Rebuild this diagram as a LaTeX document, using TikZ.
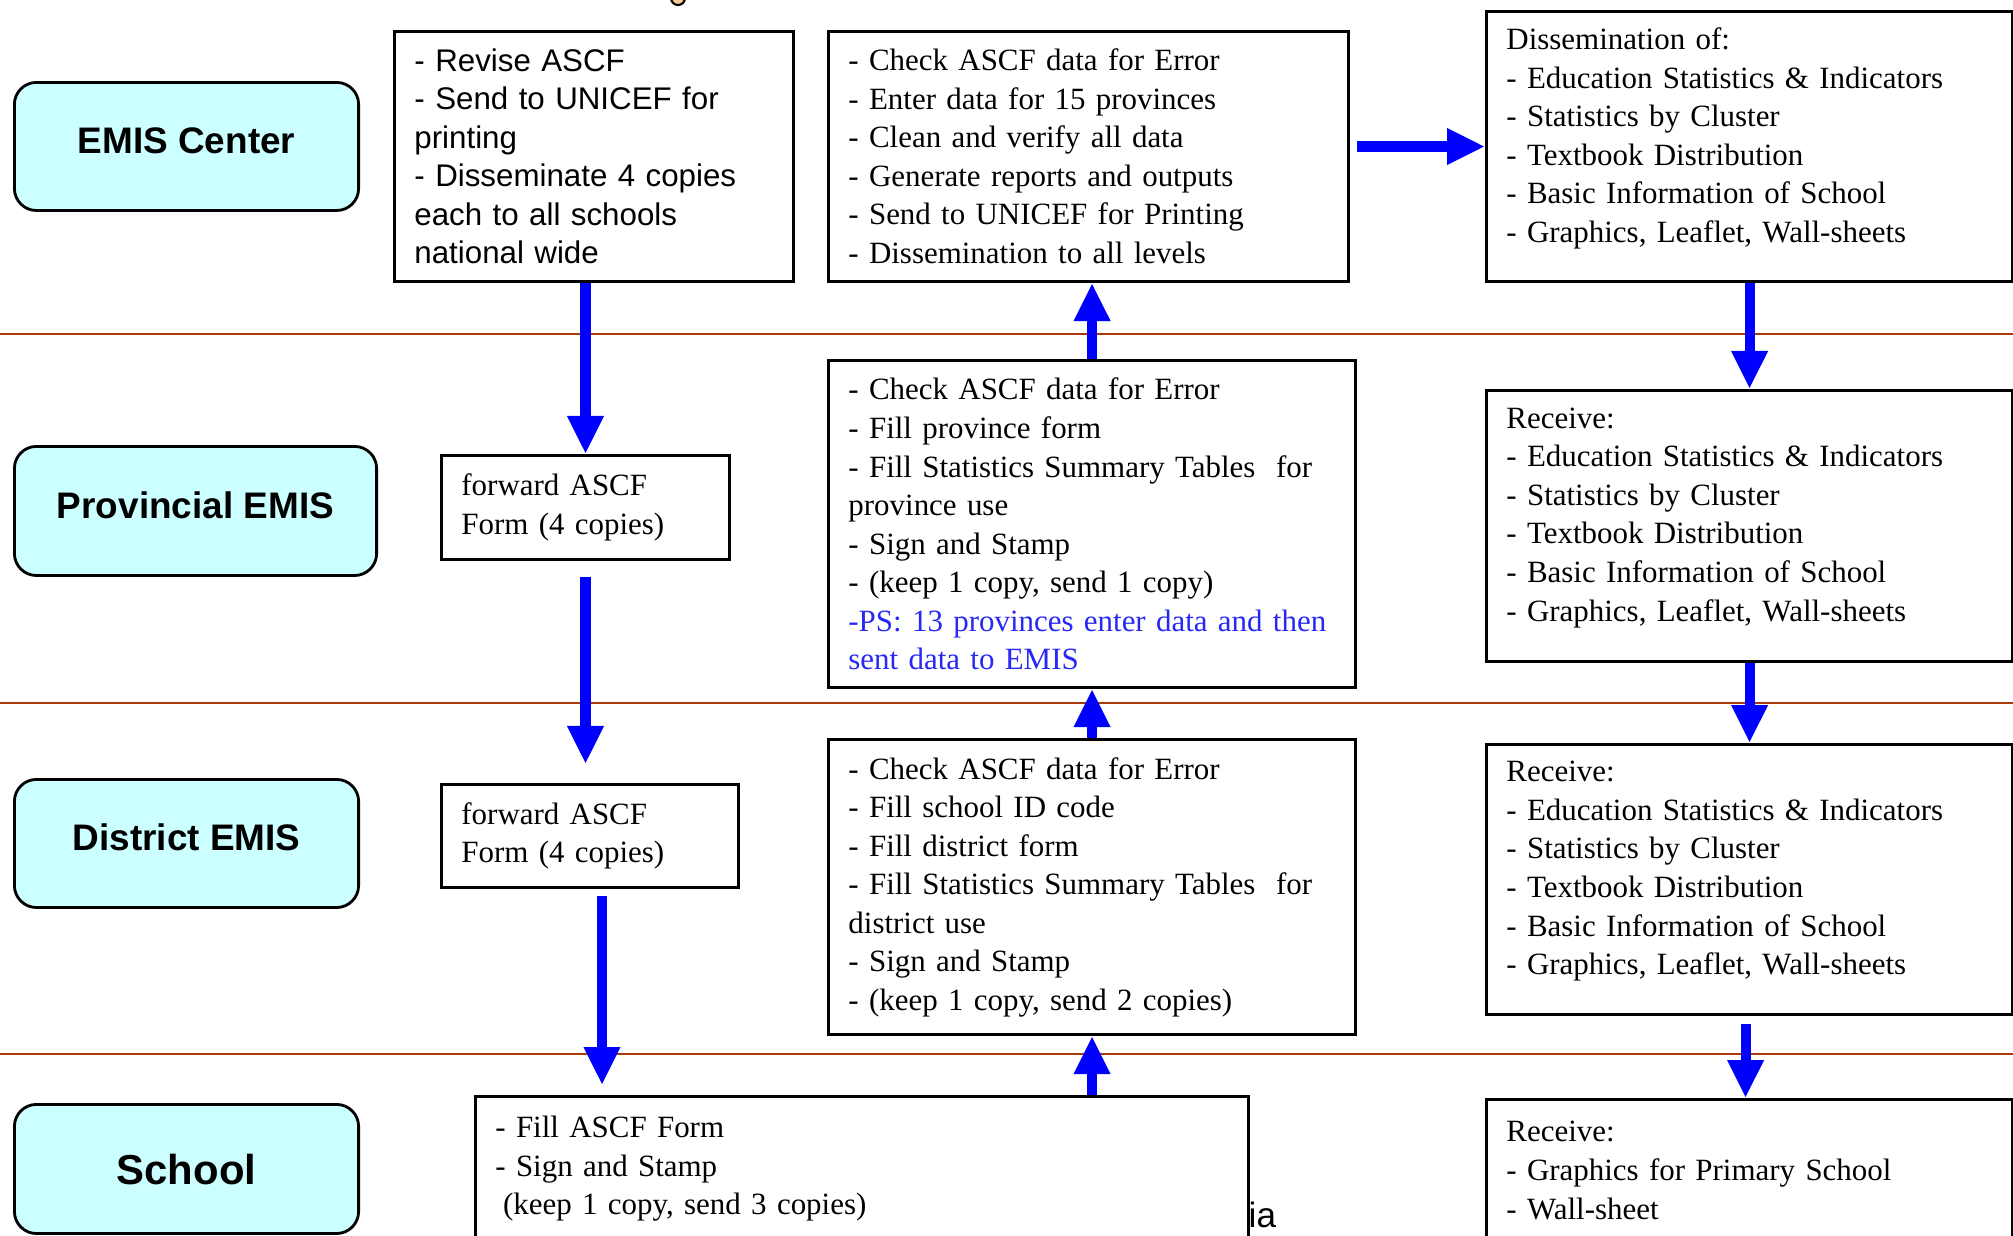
\documentclass[tikz,border=0pt]{standalone}
\usepackage{fontspec}
\setmainfont{Liberation Serif}
\newfontfamily\arialfont{Liberation Sans}
\usetikzlibrary{arrows.meta}
\definecolor{levelcyan}{RGB}{204,255,255}
\definecolor{rulebrown}{RGB}{170,60,10}
\definecolor{psblue}{RGB}{40,40,245}
\definecolor{peach}{RGB}{255,200,150}
\newcommand{\bottomgap}{\rule[-0.23cm]{0pt}{0.23cm}}

\begin{document}
\begin{tikzpicture}[x=0.01cm, y=-0.01cm,
    level/.style={draw, line width=0.8pt, fill=levelcyan, rounded corners=0.22cm, anchor=north west,
      inner sep=0pt, text depth=0.12cm, font=\arialfont\bfseries\fontsize{10.5pt}{12pt}\selectfont},
    textbox/.style={draw, line width=0.8pt, anchor=north west, align=left, inner xsep=0.2cm, inner ysep=0pt,
      font=\fontsize{8.8pt}{10.95pt}\selectfont},
    flow/.style={draw=blue, line width=0.1cm, -{Triangle[length=0.38cm, width=0.34cm]}},
    ]
    \path[use as bounding box, fill=white] (0,0) rectangle (2013,1235);

    % level separators
    \draw[rulebrown, line width=0.7pt] (0,334) -- (2013,334);
    \draw[rulebrown, line width=0.7pt] (0,703) -- (2013,703);
    \draw[rulebrown, line width=0.7pt] (0,1054) -- (2013,1054);
    \draw[fill=peach, line width=0.6pt] (678,-2) circle (0.07cm);

    % levels
    \node[level, minimum width=3.44cm, minimum height=1.28cm] (emisLbl) at (13,81) {EMIS Center};
    \node[level, minimum width=3.62cm, minimum height=1.29cm] (provLbl) at (13,445) {Provincial EMIS};
    \node[level, minimum width=3.44cm, minimum height=1.28cm] (distLbl) at (13,778) {District EMIS};
    \node[level, minimum width=3.44cm, minimum height=1.29cm, text depth=0pt,
      font=\arialfont\bfseries\fontsize{11.9pt}{14pt}\selectfont] (schoolLbl) at (13,1103) {School};

    % forms going down
    \node[textbox, font=\arialfont\fontsize{8.9pt}{10.95pt}\selectfont, text width=3.59cm, minimum height=2.5cm]
      (reviseBox) at (393,30) {- Revise ASCF\\- Send to UNICEF for\\printing\\- Disseminate 4 copies\\each to all schools\\national wide};
    \node[textbox, text width=2.48cm, minimum height=1.04cm] (fwdProv) at (440,454) {forward ASCF\\Form (4 copies)};
    \node[textbox, text width=2.57cm, minimum height=1.03cm] (fwdDist) at (440,783) {forward ASCF\\Form (4 copies)};
    \node[textbox, text width=7.33cm, minimum height=1.45cm] (schoolBox) at (474,1095)
      {- Fill ASCF Form\\- Sign and Stamp\\\hspace{0.25em}(keep 1 copy, send 3 copies)};
    \node[anchor=base west, inner sep=0pt, font=\arialfont\fontsize{10pt}{12pt}\selectfont] (iaTxt) at (1248,1227) {ia};

    % data going up
    \node[textbox, text width=4.8cm, minimum height=2.5cm] (emisWork) at (827,30)
      {- Check ASCF data for Error\\- Enter data for 15 provinces\\- Clean and verify all data\\- Generate reports and outputs\\- Send to UNICEF for Printing\\- Dissemination to all levels};
    \node[textbox, text width=4.87cm, minimum height=3.27cm] (provWork) at (827,359)
      {- Check ASCF data for Error\\- Fill province form\\- Fill Statistics Summary Tables\ \ for\\province use\\- Sign and Stamp\\- (keep 1 copy, send 1 copy)\\\mbox{\textcolor{psblue}{-PS: 13 provinces enter data and then}}\\\textcolor{psblue}{sent data to EMIS}};
    \node[textbox, text width=4.87cm, minimum height=2.95cm] (distWork) at (827,738)
      {- Check ASCF data for Error\\- Fill school ID code\\- Fill district form\\- Fill Statistics Summary Tables\ \ for\\district use\\- Sign and Stamp\\- (keep 1 copy, send 2 copies)};

    % outputs
    \node[textbox, text width=4.86cm, minimum height=2.7cm] (dissBox) at (1485,10)
      {Dissemination of:\\- Education Statistics \& Indicators\\- Statistics by Cluster\\- Textbook Distribution\\- Basic Information of School\\- Graphics, Leaflet, Wall-sheets\bottomgap};
    \node[textbox, text width=4.86cm, minimum height=2.71cm] (provRecv) at (1485,389)
      {Receive:\\- Education Statistics \& Indicators\\- Statistics by Cluster\\- Textbook Distribution\\- Basic Information of School\\- Graphics, Leaflet, Wall-sheets\bottomgap};
    \node[textbox, text width=4.86cm, minimum height=2.7cm] (distRecv) at (1485,743)
      {Receive:\\- Education Statistics \& Indicators\\- Statistics by Cluster\\- Textbook Distribution\\- Basic Information of School\\- Graphics, Leaflet, Wall-sheets\bottomgap};
    \node[textbox, text width=4.86cm, minimum height=1.42cm] (schoolRecv) at (1485,1098)
      {Receive:\\- Graphics for Primary School\\- Wall-sheet};

    % arrows
    \draw[flow] (reviseBox.south -| fwdProv.north) -- (fwdProv.north);
    \draw[flow, shorten <=0.16cm, shorten >=0.19cm] (fwdProv.south) -- (fwdProv.south |- fwdDist.north);
    \coordinate (fwdDistOut) at ([xshift=0.12cm]fwdDist.south);
    \draw[flow, shorten <=0.07cm, shorten >=0.1cm] (fwdDistOut) -- (fwdDistOut |- schoolBox.north);

    \draw[flow] (distWork.south |- schoolBox.north) -- (distWork.south);
    \draw[flow] (distWork.north) -- (distWork.north |- provWork.south);
    \draw[flow] (provWork.north) -- (provWork.north |- emisWork.south);
    \draw[flow, shorten <=0.07cm] (emisWork.east |- dissBox.west) -- (dissBox.west);

    \draw[flow] (dissBox.south) -- (dissBox.south |- provRecv.north);
    \draw[flow] (provRecv.south) -- (provRecv.south |- distRecv.north);
    \coordinate (distRecvOut) at ([xshift=-0.04cm]distRecv.south);
    \draw[flow, shorten <=0.08cm] (distRecvOut) -- (distRecvOut |- schoolRecv.north);
\end{tikzpicture}
\end{document}
